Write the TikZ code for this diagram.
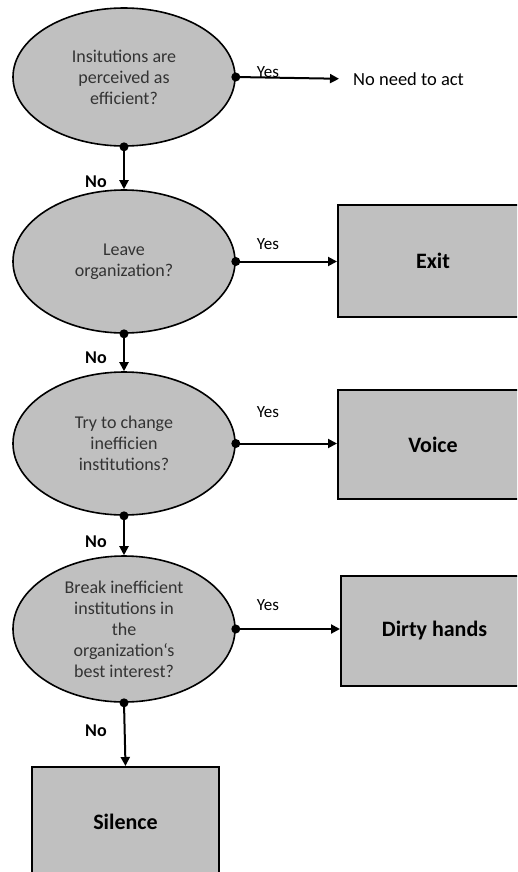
\documentclass[tikz,border=0pt]{standalone}
\usepackage{fontspec}
\setmainfont{Carlito}
\usetikzlibrary{shapes.geometric,arrows.meta}
\definecolor{boxgray}{HTML}{C0C0C0}
\definecolor{qtext}{HTML}{333333}
\begin{document}
\begin{tikzpicture}[x=1pt,y=-1pt,
  q/.style={ellipse,draw=black,line width=1.6pt,fill=boxgray,minimum width=222pt,minimum height=143pt,inner sep=0pt,align=center,font=\fontsize{18}{21}\selectfont,text=qtext},
  res/.style={rectangle,draw=black,line width=2pt,fill=boxgray,minimum width=190pt,minimum height=111pt,inner sep=0pt,font=\fontsize{22}{26}\selectfont\bfseries},
  lbl/.style={font=\fontsize{17}{20}\selectfont,inner sep=0pt},
  nolbl/.style={font=\fontsize{18}{20}\selectfont\bfseries,inner sep=0pt},
  arr/.style={line width=2pt,-{Triangle[length=9pt,width=9pt]}},
  dotc/.style={fill=black}]
\clip (0,0) rectangle (517,872);
\fill[white] (0,0) rectangle (517,872);

\node[q,minimum height=138pt] (q1) at (124,77) {Insitutions are\\perceived as\\efficient?};
\node[q] (q2) at (124,261.5) {Leave\\organization?};
\node[q] (q3) at (124,443.5) {Try to change\\inefficien\\institutions?};
\node[q,minimum height=146pt] (q4) at (124,629) {Break inefficient\\institutions in\\the\\organization‘s\\best interest?};

\node[lbl,anchor=west,font=\fontsize{18.5}{20}\selectfont] (nna) at (353,79) {No need to act};
\node[res,minimum height=112pt] (exit) at (433,261) {Exit};
\node[res,minimum height=109pt] (voice) at (433,444.5) {Voice};
\node[res,minimum width=187pt,minimum height=110pt] (dirty) at (434.5,631) {Dirty hands};
\node[res,minimum width=187pt,minimum height=110pt] (silence) at (125.5,822) {Silence};

\draw[arr,shorten >=14pt] (q1.east) -- (nna.west);
\draw[arr] (q2.east) -- (exit.west |- q2.east);
\draw[arr] (q3.east) -- (voice.west |- q3.east);
\draw[arr] (q4.east) -- (dirty.west |- q4.east);

\draw[arr] (q1.south) -- (q2.north);
\draw[arr] (q2.south) -- (q3.north);
\draw[arr] (q3.south) -- (q4.north);
\draw[arr] (q4.south) -- (silence.north);

\foreach \n in {q1,q2,q3,q4}{
  \fill[dotc] (\n.east) circle (4.5pt);
  \fill[dotc] (\n.south) circle (4.5pt);
}

\node[lbl] (y1) at (268,72) {Yes};
\node[lbl] (y2) at (268,244) {Yes};
\node[lbl] (y3) at (268,412) {Yes};
\node[lbl] (y4) at (268,605) {Yes};
\node[nolbl] (n1) at (96,182) {No};
\node[nolbl] (n2) at (96,358) {No};
\node[nolbl] (n3) at (96,542) {No};
\node[nolbl] (n4) at (96,731) {No};
\end{tikzpicture}
\end{document}
